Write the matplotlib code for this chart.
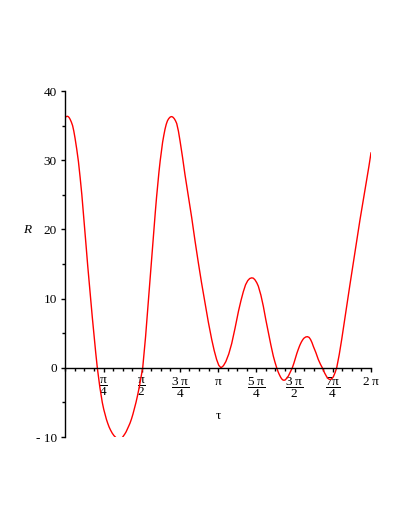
import numpy as np
import matplotlib.pyplot as plt
from matplotlib.ticker import FixedLocator, MultipleLocator

# curve values
tau = [0.00, 0.02, 0.04, 0.06, 0.08, 0.10, 0.125, 0.15, 0.175, 0.20, 0.235, 0.27,
       0.305, 0.34, 0.37, 0.40, 0.43, 0.46, 0.49, 0.52, 0.555, 0.59, 0.625,
       0.658, 0.685, 0.71, 0.735, 0.76, 0.79, 0.82, 0.845, 0.871, 0.90, 0.93,
       0.965, 1.00, 1.05, 1.11, 1.17, 1.22, 1.25, 1.28, 1.305, 1.33, 1.36,
       1.39, 1.42, 1.453, 1.485, 1.52, 1.555, 1.591, 1.62, 1.65, 1.675, 1.70,
       1.725, 1.75, 1.775, 1.80, 1.825, 1.85, 1.875, 1.90, 1.925, 1.95, 1.975,
       2.00, 2.025, 2.05, 2.075, 2.10, 2.125, 2.15, 2.17, 2.19, 2.215, 2.24,
       2.265, 2.29, 2.325, 2.358, 2.41, 2.46, 2.53, 2.598, 2.665, 2.734, 2.80,
       2.872, 2.94, 3.009, 3.06, 3.11, 3.155, 3.20, 3.25, 3.30, 3.36, 3.42,
       3.488, 3.56, 3.61, 3.659, 3.705, 3.75, 3.79, 3.831, 3.865, 3.90, 3.935,
       3.967, 4.02, 4.07, 4.12, 4.173, 4.225, 4.275, 4.31, 4.345, 4.375, 4.40,
       4.425, 4.448, 4.47, 4.495, 4.52, 4.54, 4.56, 4.584, 4.625, 4.666, 4.70,
       4.73, 4.76, 4.79, 4.82, 4.85, 4.875, 4.90, 4.94, 4.975, 5.01, 5.04,
       5.07, 5.098, 5.15, 5.20, 5.245, 5.29, 5.33, 5.373, 5.41, 5.441, 5.475,
       5.509, 5.545, 5.578, 5.63, 5.681, 5.73, 5.784, 5.85, 5.92, 5.99, 6.057,
       6.125, 6.195, 6.24, 6.283]
R = [36.2, 36.3, 36.35, 36.3, 36.15, 35.9, 35.5, 35.0, 34.2, 33.2, 31.6, 29.8,
     27.5, 25.0, 22.5, 20.0, 17.4, 14.8, 12.4, 10.0, 7.3, 4.7, 2.2,
     0.0, -1.5, -2.8, -3.9, -5.0, -6.0, -6.8, -7.45, -8.0, -8.55, -9.0,
     -9.45, -9.8, -10.15, -10.3, -10.1, -9.6, -9.25, -8.8, -8.4, -8.0, -7.4,
     -6.7, -5.9, -5.0, -4.0, -2.8, -1.45, 0.0, 2.2, 4.5, 6.7, 9.0,
     11.3, 13.5, 15.8, 18.0, 20.3, 22.5, 24.6, 26.5, 28.3, 29.9, 31.3,
     32.6, 33.6, 34.5, 35.2, 35.7, 36.0, 36.2, 36.28, 36.3, 36.2, 36.0,
     35.7, 35.3, 34.2, 32.8, 30.4, 27.9, 24.8, 21.7, 18.4, 15.2, 12.3,
     9.4, 6.6, 4.1, 2.5, 1.2, 0.35, 0.0, 0.3, 0.9, 2.0, 3.5,
     5.7, 8.2, 9.7, 11.0, 12.0, 12.6, 12.9, 13.0, 12.95, 12.7, 12.3,
     11.8, 10.5, 8.9, 7.0, 5.1, 3.3, 1.7, 0.8, 0.0, -0.6, -1.0,
     -1.35, -1.6, -1.75, -1.8, -1.75, -1.6, -1.4, -1.2, -0.6, 0.0, 0.7,
     1.4, 2.1, 2.7, 3.25, 3.7, 4.0, 4.25, 4.45, 4.5, 4.4, 4.1,
     3.65, 3.1, 2.2, 1.2, 0.5, -0.1, -0.75, -1.3, -1.6, -1.7, -1.6,
     -1.3, -0.7, 0.0, 1.9, 4.1, 6.4, 8.9, 12.0, 15.2, 18.3, 21.4,
     24.3, 27.2, 29.1, 31.05]

xtick_pos = [np.pi / 4 * k for k in range(1, 9)]
xtick_labels = [r'$\dfrac{\mathrm{π}}{\mathrm{4}}$', r'$\dfrac{\mathrm{π}}{\mathrm{2}}$',
                r'$\dfrac{\mathrm{3\ π}}{\mathrm{4}}$', r'$\mathrm{π}$',
                r'$\dfrac{\mathrm{5\ π}}{\mathrm{4}}$', r'$\dfrac{\mathrm{3\ π}}{\mathrm{2}}$',
                r'$\dfrac{\mathrm{7π}}{\mathrm{4}}$', r'$\mathrm{2\ π}$']
ytick_pos = [-10, 0, 10, 20, 30, 40]
ytick_labels = ['- 10', '0', '10', '20', '30', '40']

plt.rcParams['font.family'] = 'Liberation Serif'
plt.rcParams['mathtext.fontset'] = 'custom'
plt.rcParams['mathtext.rm'] = 'Liberation Serif'
plt.rcParams['mathtext.it'] = 'Liberation Serif:italic'

fig = plt.figure(figsize=(4.09, 5.29), dpi=100)
ax = fig.add_axes([65.3 / 409, 1 - 437 / 529, 305.7 / 409, 346 / 529])

ax.plot(tau, R, color='red', lw=1.0, solid_joinstyle='round')
ax.set_xlim(0, 2 * np.pi)
ax.set_ylim(-10, 40)

ax.spines['top'].set_visible(False)
ax.spines['right'].set_visible(False)
ax.spines['bottom'].set_position(('data', 0))
ax.spines['left'].set_linewidth(1.0)
ax.spines['bottom'].set_linewidth(1.0)

ax.xaxis.set_major_locator(FixedLocator(xtick_pos))
ax.set_xticklabels(xtick_labels, fontsize=9.5)
ax.xaxis.set_minor_locator(MultipleLocator(np.pi / 16))
ax.yaxis.set_major_locator(FixedLocator(ytick_pos))
ax.set_yticklabels(ytick_labels, fontsize=9.5)
ax.yaxis.set_minor_locator(MultipleLocator(5))

ax.tick_params(which='major', length=3, width=1.0, pad=3)
ax.tick_params(which='minor', length=2, width=1.0)

fig.text(27 / 409, 1 - 230 / 529, 'R', fontsize=9.5, style='italic',
         ha='center', va='center')
fig.text(218 / 409, 1 - 416 / 529, 'τ', fontsize=9.5, ha='center', va='center')

fig.savefig('out.png', dpi=100)
